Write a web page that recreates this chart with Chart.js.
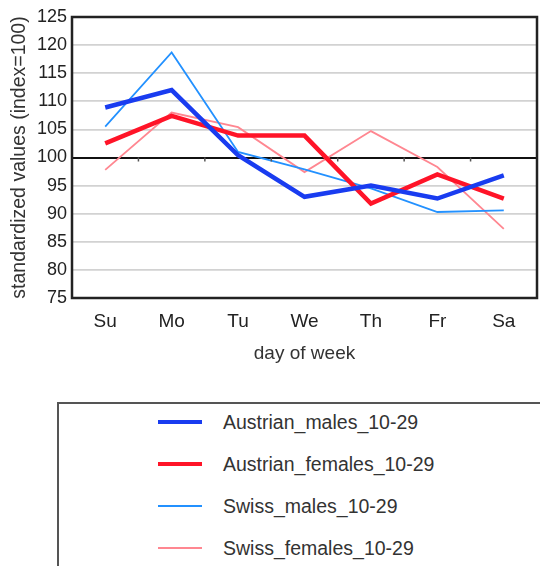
<!DOCTYPE html>
<html>
<head>
<meta charset="utf-8">
<script src="https://cdn.jsdelivr.net/npm/chart.js@4/dist/chart.umd.min.js"></script>
<style>
  body { margin: 0; width: 540px; height: 566px; overflow: hidden; background: #fff; font-family: "Liberation Sans", Arial, sans-serif; }
  #wrap { position: absolute; left: 0; top: 0; width: 540px; height: 390px; }
  #legend { position: absolute; left: 57px; top: 402px; width: 520px; height: 200px; border: 2px solid #555; box-sizing: border-box; }
  .item { position: absolute; left: 99px; height: 24px; }
  .item span.line { position: absolute; left: 0; width: 44px; display: block; }
  .item span.txt { position: absolute; left: 65px; top: -11px; font-size: 19.5px; color: #333; white-space: nowrap; }
</style>
</head>
<body>
<div id="wrap"><canvas id="chart"></canvas></div>
<div id="legend"></div>
<script>
var days = ["Su", "Mo", "Tu", "We", "Th", "Fr", "Sa"];
var austrianMales = [108.9, 112.0, 100.4, 93.0, 95.0, 92.7, 96.8];
var austrianFemales = [102.5, 107.4, 103.9, 103.9, 91.8, 97.0, 92.7];
var swissMales = [105.5, 118.7, 101.0, 97.9, 94.5, 90.3, 90.6];
var swissFemales = [97.8, 108.0, 105.4, 97.4, 104.7, 98.3, 87.3];

var font = "'Liberation Sans', Arial, sans-serif";

// frame round the plot plus the small ticks on the 100 line
var framePlugin = {
  id: "frame",
  afterDatasetsDraw: function (chart) {
    var c = chart.ctx, a = chart.chartArea;
    var x = chart.scales.x, y = chart.scales.y;
    var y100 = y.getPixelForValue(100);
    c.save();
    c.strokeStyle = "#555";
    c.lineWidth = 1.5;
    for (var i = 1; i < days.length; i++) {
      var px = (x.getPixelForTick(i - 1) + x.getPixelForTick(i)) / 2;
      c.beginPath();
      c.moveTo(px, y100);
      c.lineTo(px, y100 + 4);
      c.stroke();
    }
    c.strokeStyle = "#222";
    c.lineWidth = 2.5;
    c.strokeRect(a.left, a.top, a.right - a.left, a.bottom - a.top);
    c.restore();
  }
};

var ctx = document.getElementById("chart");
var chart = new Chart(ctx, {
  type: "line",
  data: {
    labels: days,
    datasets: [
      { label: "Austrian_males_10-29", data: austrianMales, borderColor: "rgb(25,60,240)", borderWidth: 4.5 },
      { label: "Austrian_females_10-29", data: austrianFemales, borderColor: "rgb(255,20,40)", borderWidth: 4.5 },
      { label: "Swiss_males_10-29", data: swissMales, borderColor: "rgb(35,145,255)", borderWidth: 1.8 },
      { label: "Swiss_females_10-29", data: swissFemales, borderColor: "rgb(255,135,145)", borderWidth: 1.8 }
    ]
  },
  options: {
    responsive: true,
    maintainAspectRatio: false,
    animation: false,
    elements: { point: { radius: 0 }, line: { tension: 0 } },
    layout: { padding: { top: 17, right: 3, left: 0, bottom: 0 } },
    plugins: { legend: { display: false }, tooltip: { enabled: false } },
    scales: {
      x: {
        offset: true,
        grid: { display: false, drawTicks: false },
        border: { display: false },
        ticks: { padding: 12, color: "#222", font: { family: font, size: 19 } },
        title: { display: true, text: "day of week", color: "#333", font: { family: font, size: 19 }, padding: { top: 0, bottom: 25 } },
        afterFit: function (s) { s.height = 92; }
      },
      y: {
        min: 75,
        max: 125,
        ticks: { stepSize: 5, padding: 5, color: "#222", font: { family: font, size: 18 } },
        grid: {
          drawTicks: false,
          lineWidth: function (c) { return c.tick && c.tick.value === 100 ? 2 : 1.8; },
          color: function (c) { return c.tick && c.tick.value === 100 ? "#111" : "#d2d2d2"; }
        },
        border: { display: false },
        title: { display: true, text: "standardized values (index=100)", color: "#333", font: { family: font, size: 19.5 }, padding: { top: 8, bottom: 0 } },
        afterFit: function (s) { s.width = 72; }
      }
    }
  },
  plugins: [framePlugin]
});

// legend built from the datasets
var legend = document.getElementById("legend");
chart.data.datasets.forEach(function (ds, i) {
  var h = ds.borderWidth > 3 ? 4 : 2;
  var row = document.createElement("div");
  row.className = "item";
  row.style.top = (18 + i * 42) + "px";
  var ln = document.createElement("span");
  ln.className = "line";
  ln.style.height = h + "px";
  ln.style.background = ds.borderColor;
  ln.style.top = (-h / 2) + "px";
  var tx = document.createElement("span");
  tx.className = "txt";
  tx.textContent = ds.label;
  row.appendChild(ln);
  row.appendChild(tx);
  legend.appendChild(row);
});
</script>
</body>
</html>
